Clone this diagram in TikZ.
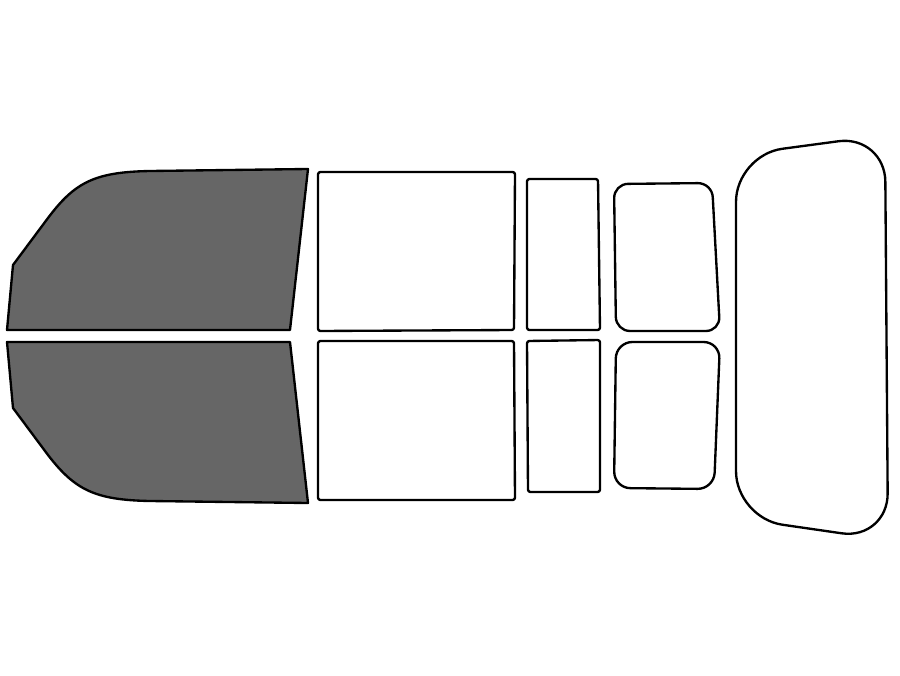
\documentclass[tikz,border=0pt]{standalone}
\tikzset{pane/.style={draw=black, line width=2pt, fill=white, line join=round},
  tinted/.style={pane, fill=black!60}}
\begin{document}
\begin{tikzpicture}[x=0.03cm,y=-0.03cm]
  \useasboundingbox (0,0) rectangle (900,675);
  % front doors
  \draw [tinted] (7,330) -- (13,265) -- (48,218) .. controls (75,182) and (95,172) .. (150,171) -- (308,169) -- (290,330) -- cycle;
  \draw [tinted] (7,342) -- (290,342) -- (308,503) -- (150,501) .. controls (95,500) and (75,490) .. (48,455) -- (13,408) -- cycle;
  % rear doors
  \draw [pane, rounded corners=2pt] (318,172) -- (515,172) -- (514,330) -- (318,331) -- cycle;
  \draw [pane, rounded corners=2pt] (318,341) -- (514,341) -- (515,500) -- (318,500) -- cycle;
  % quarter windows
  \draw [pane, rounded corners=2pt] (527,179) -- (598,179) -- (600,330) -- (527,330) -- cycle;
  \draw [pane, rounded corners=2pt] (527,341) -- (600,340) -- (600,492) -- (528,492) -- cycle;
  % vent windows
  \draw [pane, rounded corners=12pt] (614,184) -- (712,183) -- (720,331) -- (616,331) -- cycle;
  \draw [pane, rounded corners=14pt] (616,342) -- (720,342) -- (714,489) -- (614,488) -- cycle;
  % back glass
  \draw [pane, rounded corners=40pt] (736,155) -- (885,135) -- (888,540) -- (736,518) -- cycle;
\end{tikzpicture}
\end{document}
